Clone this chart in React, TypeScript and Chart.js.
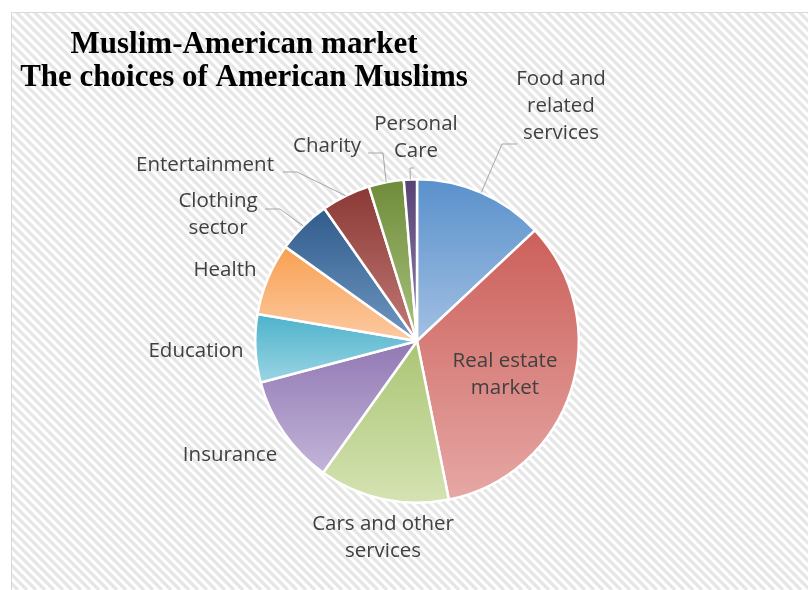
import React, { useEffect, useRef } from 'react';
import { Chart, registerables } from 'chart.js';

Chart.register(...registerables);

const titleLines = ['Muslim-American market', 'The choices of American Muslims'];

const categories = [
  'Food and related services',
  'Real estate market',
  'Cars and other services',
  'Insurance',
  'Education',
  'Health',
  'Clothing sector',
  'Entertainment',
  'Charity',
  'Personal Care',
];

const shares = [13, 33.8, 13, 11, 6.8, 7.2, 5.4, 4.9, 3.5, 1.3];

const labelLines = [
  ['Food and', 'related', 'services'],
  ['Real estate', 'market'],
  ['Cars and other', 'services'],
  ['Insurance'],
  ['Education'],
  ['Health'],
  ['Clothing', 'sector'],
  ['Entertainment'],
  ['Charity'],
  ['Personal', 'Care'],
];

// styles (gradient top -> bottom of each slice)
const topColors = ['#5990cb', '#cc5f5a', '#aac573', '#9178b4', '#4db2cb', '#f8a052', '#2f5b8b', '#8a3835', '#6e8b39', '#574373'];
const bottomColors = ['#a2c0e3', '#e6a8a5', '#d5e3b3', '#c3b5d8', '#9ad5e4', '#fccaa2', '#7097c2', '#c27a76', '#aac37f', '#9181ad'];

// label placement relative to pie centre (px): text centre, optional leader elbow and end
type LabelPos = { dx: number; dy: number; elbow?: [number, number]; end?: [number, number] };
const labelLayout: LabelPos[] = [
  { dx: 144, dy: -235, elbow: [85, -197], end: [100, -197] },
  { dx: 88, dy: 34 },
  { dx: -34, dy: 197 },
  { dx: -187, dy: 114 },
  { dx: -221, dy: 10 },
  { dx: -192, dy: -71 },
  { dx: -199, dy: -126, elbow: [-137, -132], end: [-152, -132] },
  { dx: -212, dy: -176, elbow: [-120, -169], end: [-134, -169] },
  { dx: -90, dy: -195, elbow: [-34, -188], end: [-49, -188] },
  { dx: -1, dy: -203.5, elbow: [-7, -173], end: [-3, -173] },
];

const FRAME_X = 11.5;
const FRAME_Y = 12.5;

function sliceYBounds(chart: any, index: number) {
  const area = chart.chartArea;
  const cx = (area.left + area.right) / 2;
  const cy = (area.top + area.bottom) / 2;
  const r = Math.min(area.right - area.left, area.bottom - area.top) / 2;
  const total = shares.reduce((a, b) => a + b, 0);
  let cum = 0;
  for (let i = 0; i < index; i++) cum += shares[i];
  const a0 = -Math.PI / 2 + (2 * Math.PI * cum) / total;
  const a1 = -Math.PI / 2 + (2 * Math.PI * (cum + shares[index])) / total;
  const ys = [cy, cy + r * Math.sin(a0), cy + r * Math.sin(a1)];
  const includes = (ang: number) => {
    for (let k = -1; k <= 2; k++) {
      const t = ang + k * 2 * Math.PI;
      if (t >= a0 && t <= a1) return true;
    }
    return false;
  };
  if (includes(Math.PI / 2)) ys.push(cy + r);
  if (includes(-Math.PI / 2)) ys.push(cy - r);
  return { min: Math.min(...ys), max: Math.max(...ys) };
}

const decorPlugin = {
  id: 'decor',
  beforeDraw(chart: any) {
    const { ctx, width, height } = chart;
    ctx.save();
    ctx.fillStyle = '#ffffff';
    ctx.fillRect(0, 0, width, height);
    ctx.beginPath();
    ctx.rect(FRAME_X, FRAME_Y, width - FRAME_X, height - FRAME_Y);
    ctx.clip();
    ctx.strokeStyle = '#e6e6e6';
    ctx.lineWidth = 3.3;
    const step = 9;
    for (let x = -height; x < width + height; x += step) {
      ctx.beginPath();
      ctx.moveTo(x, 0);
      ctx.lineTo(x + height, height);
      ctx.stroke();
    }
    ctx.restore();
    ctx.save();
    ctx.strokeStyle = '#d9d9d9';
    ctx.lineWidth = 1;
    ctx.beginPath();
    ctx.moveTo(FRAME_X, height);
    ctx.lineTo(FRAME_X, FRAME_Y);
    ctx.lineTo(width, FRAME_Y);
    ctx.stroke();
    ctx.restore();
  },
  afterDraw(chart: any) {
    const { ctx } = chart;
    const meta = chart.getDatasetMeta(0);
    const area = chart.chartArea;
    const cx = (area.left + area.right) / 2;
    const cy = (area.top + area.bottom) / 2;
    ctx.save();
    // title
    ctx.fillStyle = '#000000';
    ctx.textAlign = 'center';
    ctx.textBaseline = 'middle';
    ctx.font = 'bold 31px "Liberation Serif", serif';
    ctx.fillText(titleLines[0], 244, 45);
    ctx.fillText(titleLines[1], 244, 78);

    // leaders
    ctx.strokeStyle = '#a6a6a6';
    ctx.lineWidth = 1;
    meta.data.forEach((arc: any, i: number) => {
      const lp = labelLayout[i];
      if (!lp.elbow || !lp.end) return;
      const mid = (arc.startAngle + arc.endAngle) / 2;
      const r = arc.outerRadius;
      ctx.beginPath();
      ctx.moveTo(cx + r * Math.cos(mid), cy + r * Math.sin(mid));
      ctx.lineTo(cx + lp.elbow[0], cy + lp.elbow[1]);
      ctx.lineTo(cx + lp.end[0], cy + lp.end[1]);
      ctx.stroke();
    });

    // labels
    ctx.fillStyle = '#404040';
    ctx.font = '20.5px "Open Sans", sans-serif';
    const lh = 27;
    labelLines.forEach((lines, i) => {
      const lp = labelLayout[i];
      const x = cx + lp.dx;
      const y0 = cy + lp.dy - ((lines.length - 1) * lh) / 2;
      lines.forEach((t, k) => ctx.fillText(t, x, y0 + k * lh));
    });
    ctx.restore();
  },
};

export default function App() {
  const ref = useRef<HTMLCanvasElement>(null);
  useEffect(() => {
    if (!ref.current) return;
    const chart = new Chart(ref.current, {
      type: 'pie',
      data: {
        labels: categories,
        datasets: [
          {
            data: shares,
            backgroundColor: (c: any) => {
              const chart = c.chart;
              if (!chart.chartArea) return topColors[c.dataIndex];
              const b = sliceYBounds(chart, c.dataIndex);
              const g = chart.ctx.createLinearGradient(0, b.min, 0, b.max);
              g.addColorStop(0, topColors[c.dataIndex]);
              g.addColorStop(1, bottomColors[c.dataIndex]);
              return g;
            },
            borderColor: '#ffffff',
            borderWidth: 2.5,
          },
        ],
      },
      options: {
        responsive: false,
        maintainAspectRatio: false,
        animation: false,
        devicePixelRatio: 1,
        layout: { padding: { left: 254, right: 228, top: 178, bottom: 86 } },
        plugins: {
          legend: { display: false },
          tooltip: { enabled: false },
          title: { display: false },
        },
      },
      plugins: [decorPlugin],
    });
    return () => chart.destroy();
  }, []);
  return (
    <div style={{ position: 'absolute', left: 0, top: 0, width: 808, height: 590 }}>
      <canvas ref={ref} width={808} height={590} style={{ width: 808, height: 590, display: 'block' }} />
    </div>
  );
}
